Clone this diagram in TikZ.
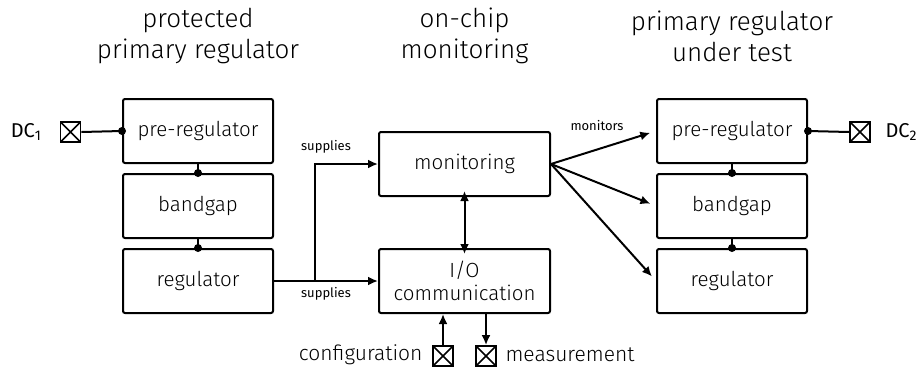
\documentclass[tikz,border=0pt]{standalone}
\usepackage{fontspec}
\setmainfont{Fira Sans Light}
\newfontfamily\regfont{Fira Sans}
\usetikzlibrary{arrows.meta}
\begin{document}
\begin{tikzpicture}[x=1pt,y=-1pt,
  blk/.style={draw, line width=2pt, rounded corners=2pt, minimum width=150pt, minimum height=64pt, inner sep=0pt, font=\fontsize{20.5}{23}\selectfont},
  pad/.style={draw, line width=1.8pt, minimum size=20pt, inner sep=0pt,
     path picture={\draw[line width=1.5pt] (path picture bounding box.north west) -- (path picture bounding box.south east) (path picture bounding box.north east) -- (path picture bounding box.south west);}},
  wire/.style={line width=2pt},
  tip/.tip={Latex[length=10pt,width=9pt]},
  arr/.style={line width=2pt, -tip},
  dot/.style={circle, fill, inner sep=0pt, minimum size=8pt},
  ttl/.style={align=center, font=\fontsize{26}{31}\selectfont},
  lbl/.style={font=\fontsize{21}{22}\selectfont},
  sml/.style={font=\regfont\fontsize{13}{14}\selectfont}
]
\useasboundingbox (0,0) rectangle (921,370);
% titles
\node[ttl] (t1) at (198,36) {protected\\primary regulator};
\node[ttl] (t2) at (464.5,36) {on-chip\\monitoring};
\node[ttl] (t3) at (732,36) {primary regulator\\under test};
% left
\node[blk] (lpre) at (198,131) {pre-regulator};
\node[blk] (lbg) at (198,206) {bandgap};
\node[blk] (lreg) at (198,281) {regulator};
% right
\node[blk] (rpre) at (732,131) {pre-regulator};
\node[blk] (rbg) at (732,206) {bandgap};
\node[blk] (rreg) at (732,281) {regulator};
% middle
\node[blk, minimum width=171pt] (mon) at (464.5,164) {monitoring};
\node[blk, minimum width=171pt, align=center] (io) at (464.5,281) {I/O\\communication};
% pads
\node[pad] (dc1) at (70.5,132) {};
\node[lbl, anchor=east, font=\regfont\fontsize{20}{21}\selectfont] (dc1t) at (45,132) {DC\textsubscript{1}};
\node[pad] (dc2) at (860,132) {};
\node[lbl, anchor=west, font=\regfont\fontsize{20}{21}\selectfont] (dc2t) at (882,132) {DC\textsubscript{2}};
\node[pad] (cfg) at (443,356) {};
\node[lbl, anchor=east] (cfgt) at (426,355) {configuration};
\node[pad] (meas) at (486,356) {};
\node[lbl, anchor=west] (meast) at (502,355) {measurement};
% connections left
\draw[wire] (dc1.east) -- (lpre.west) node[dot] {};
\draw[wire] (lpre.south) -- (lbg.north) node[dot] {};
\draw[wire] (lbg.south) -- (lreg.north) node[dot] {};
\draw[wire] (dc2.west) -- (rpre.east) node[dot] {};
\draw[wire] (rpre.south) -- (rbg.north) node[dot] {};
\draw[wire] (rbg.south) -- (rreg.north) node[dot] {};
% supplies
\coordinate (br) at (315,281);
\draw[arr] (lreg.east) -- (io.west);
\draw[arr] (br) |- (mon.west);
\node[sml] (s1) at (326,147) {supplies};
\node[sml] (s2) at (326,294) {supplies};
% mon-io
\draw[line width=2pt, tip-tip] ([yshift=6pt]mon.south) -- ([yshift=-6pt]io.north);
\draw[arr] (cfg.north) -- (cfg.north |- io.south);
\draw[arr] (meas.north |- io.south) -- (meas.north);
% monitors
\draw[arr, shorten >=6pt] (mon.east) -- (rpre.west);
\draw[arr, shorten >=6pt] (mon.east) -- (rbg.west);
\draw[arr, shorten >=6pt] (mon.east) -- (rreg.west);
\node[sml] (m1) at (597,126) {monitors};
\end{tikzpicture}
\end{document}
